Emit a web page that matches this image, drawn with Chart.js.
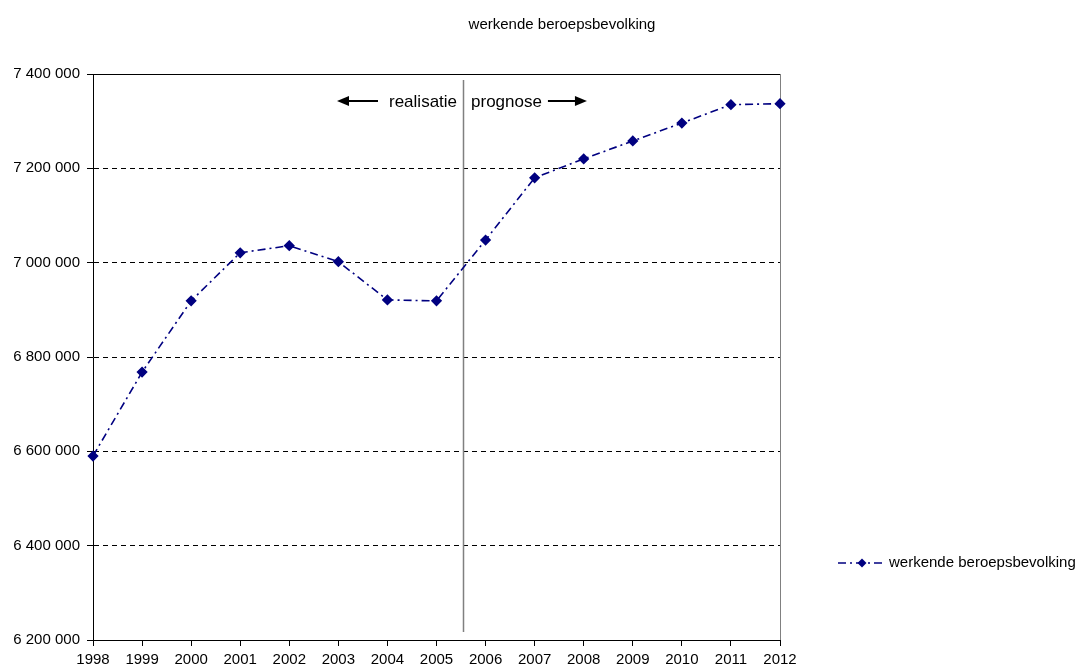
<!DOCTYPE html>
<html>
<head>
<meta charset="utf-8">
<script src="https://cdn.jsdelivr.net/npm/chart.js@4"></script>
<style>
  html, body { margin: 0; padding: 0; background: #fff; }
  #wrap { width: 1084px; height: 669px; }
</style>
</head>
<body>
<div id="wrap"><canvas id="chart" width="1084" height="669"></canvas></div>
<script>
const years = ['1998', '1999', '2000', '2001', '2002', '2003', '2004', '2005', '2006', '2007', '2008', '2009', '2010', '2011', '2012'];
const workforce = [6590000, 6768000, 6919000, 7021000, 7036000, 7002000, 6921000, 6919000, 7048000, 7180000, 7220000, 7258000, 7296000, 7335000, 7337000];
const seriesName = 'werkende beroepsbevolking';
const chartTitle = 'werkende beroepsbevolking';
const leftLabel = 'realisatie';
const rightLabel = 'prognose';

const FONT = '"Liberation Sans", Arial, sans-serif';
const NAVY = '#000080';

function fmt(v) {
  return String(v).replace(/\B(?=(\d{3})+(?!\d))/g, ' ');
}

function arrow(ctx, x1, x2, y) {
  const dir = x2 > x1 ? 1 : -1;
  ctx.beginPath();
  ctx.moveTo(x1, y);
  ctx.lineTo(x2 - dir * 8, y);
  ctx.lineWidth = 2;
  ctx.strokeStyle = '#000';
  ctx.stroke();
  ctx.beginPath();
  ctx.moveTo(x2, y);
  ctx.lineTo(x2 - dir * 12, y - 5);
  ctx.lineTo(x2 - dir * 12, y + 5);
  ctx.closePath();
  ctx.fillStyle = '#000';
  ctx.fill();
}

const extras = {
  id: 'extras',
  beforeDatasetsDraw(chart) {
    const { ctx, chartArea: a, scales } = chart;
    ctx.save();
    // plot frame: top and right
    ctx.lineWidth = 1;
    ctx.strokeStyle = '#000';
    ctx.beginPath();
    ctx.moveTo(a.left, a.top + 0.5);
    ctx.lineTo(a.right, a.top + 0.5);
    ctx.stroke();
    ctx.strokeStyle = '#808080';
    ctx.beginPath();
    ctx.moveTo(a.right + 0.5, a.top);
    ctx.lineTo(a.right + 0.5, a.bottom);
    ctx.stroke();
    // separator between realisation and forecast
    const xs = (scales.x.getPixelForValue(7) + scales.x.getPixelForValue(8)) / 2 + 2;
    ctx.strokeStyle = '#808080';
    ctx.lineWidth = 1.5;
    ctx.beginPath();
    ctx.moveTo(Math.round(xs) + 0.5, a.top + 6);
    ctx.lineTo(Math.round(xs) + 0.5, a.bottom - 8);
    ctx.stroke();
    // labels with arrows
    const ty = 102;
    ctx.font = '17px ' + FONT;
    ctx.fillStyle = '#000';
    ctx.textBaseline = 'middle';
    ctx.textAlign = 'right';
    ctx.fillText(leftLabel, xs - 6, ty);
    const lw = ctx.measureText(leftLabel).width;
    arrow(ctx, xs - 6 - lw - 11, xs - 6 - lw - 52, ty - 1);
    ctx.textAlign = 'left';
    ctx.fillText(rightLabel, xs + 8, ty);
    const rw = ctx.measureText(rightLabel).width;
    arrow(ctx, xs + 8 + rw + 6, xs + 8 + rw + 45, ty - 1);
    ctx.restore();
  },
  afterDraw(chart) {
    const { ctx } = chart;
    ctx.save();
    // title
    ctx.font = '15px ' + FONT;
    ctx.fillStyle = '#000';
    ctx.textAlign = 'center';
    ctx.textBaseline = 'middle';
    ctx.fillText(chartTitle, 562, 25);
    // legend
    const ly = 563;
    ctx.strokeStyle = NAVY;
    ctx.lineWidth = 1.5;
    ctx.setLineDash([8, 4, 2, 4]);
    ctx.beginPath();
    ctx.moveTo(838, ly);
    ctx.lineTo(883, ly);
    ctx.stroke();
    ctx.setLineDash([]);
    ctx.fillStyle = NAVY;
    ctx.beginPath();
    ctx.moveTo(862, ly - 4.5);
    ctx.lineTo(866.5, ly);
    ctx.lineTo(862, ly + 4.5);
    ctx.lineTo(857.5, ly);
    ctx.closePath();
    ctx.fill();
    ctx.fillStyle = '#000';
    ctx.font = '15px ' + FONT;
    ctx.textAlign = 'left';
    ctx.fillText(seriesName, 889, ly);
    ctx.restore();
  }
};

new Chart(document.getElementById('chart').getContext('2d'), {
  type: 'line',
  data: {
    labels: years,
    datasets: [{
      label: seriesName,
      data: workforce,
      borderColor: NAVY,
      backgroundColor: NAVY,
      borderWidth: 1.6,
      borderDash: [8, 4, 2, 4],
      pointStyle: 'rectRot',
      pointRadius: 4.5,
      pointHoverRadius: 4.5,
      tension: 0
    }]
  },
  options: {
    responsive: false,
    animation: false,
    layout: { padding: { top: 74, right: 304, left: 0, bottom: 0 } },
    plugins: {
      legend: { display: false },
      title: { display: false },
      tooltip: { enabled: false }
    },
    scales: {
      x: {
        offset: false,
        grid: { drawOnChartArea: false, tickLength: 6, color: '#000' },
        border: { color: '#000', width: 1 },
        ticks: { color: '#000', font: { family: FONT, size: 15 }, maxRotation: 0, autoSkip: false, padding: 5 },
        afterFit(scale) { scale.height = 29; }
      },
      y: {
        min: 6200000,
        max: 7400000,
        grid: {
          color: '#000',
          lineWidth: 1,
          tickLength: 6,
          tickBorderDash: [],
          drawTicks: true
        },
        border: { color: '#000', width: 1, dash: [5, 4] },
        ticks: {
          stepSize: 200000,
          color: '#000',
          font: { family: FONT, size: 15 },
          padding: 7,
          callback: v => fmt(v)
        },
        afterFit(scale) { scale.width = 93; }
      }
    }
  },
  plugins: [extras]
});
</script>
</body>
</html>
